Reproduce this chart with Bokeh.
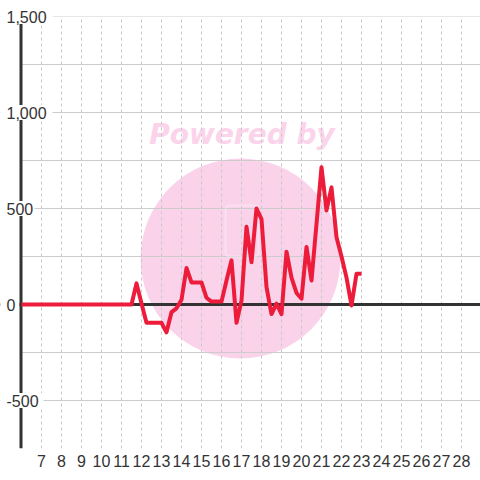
from bokeh.plotting import figure
from bokeh.models import FixedTicker, Grid, Span, BoxAnnotation, ColumnDataSource, Range1d
from bokeh.core.properties import value
from bokeh.embed import file_html
from bokeh.resources import INLINE

# ---- data ----
x_vals = [6.0, 6.25, 6.5, 6.75, 7.0, 7.25, 7.5, 7.75, 8.0, 8.25, 8.5, 8.75,
          9.0, 9.25, 9.5, 9.75, 10.0, 10.25, 10.5, 10.75, 11.0, 11.25, 11.5,
          11.75, 12.0, 12.25, 12.5, 12.75, 13.0, 13.25, 13.5, 13.75, 14.0,
          14.25, 14.5, 14.75, 15.0, 15.25, 15.5, 15.75, 16.0, 16.25, 16.5,
          16.75, 17.0, 17.25, 17.5, 17.75, 18.0, 18.25, 18.5, 18.75, 19.0,
          19.25, 19.5, 19.75, 20.0, 20.25, 20.5, 20.75, 21.0, 21.25, 21.5,
          21.75, 22.0, 22.25, 22.5, 22.75, 23.0]
y_vals = [0, 0, 0, 0, 0, 0, 0, 0, 0, 0, 0, 0,
          0, 0, 0, 0, 0, 0, 0, 0, 0, 0, 0,
          110, 5, -95, -95, -95, -95, -145, -40, -20, 25,
          190, 115, 115, 115, 35, 15, 15, 15, 125, 230,
          -95, 20, 405, 220, 500, 445, 90, -50, 5, -50,
          275, 140, 60, 30, 300, 125, 420, 715, 490, 610,
          350, 250, 140, -5, 160, 160]

x_ticks = [7, 8, 9, 10, 11, 12, 13, 14, 15, 16, 17, 18, 19, 20, 21, 22, 23, 24, 25, 26, 27, 28]
y_grid_ticks = [-750, -500, -250, 0, 250, 500, 750, 1000, 1250, 1500]
y_label_vals = [1500, 1000, 500, 0, -500]
y_label_text = ["1,500", "1,000", "500", "0", "-500"]

# ---- layout ----
W, H = 480, 480
FRAME_H = 448
PX_PER_X = 20.0
PX_PER_Y = 96.0 / 500.0
x_start = 4.95
x_end = x_start + W / PX_PER_X
y_start = -750
y_end = y_start + FRAME_H / PX_PER_Y

def dx(px):
    return x_start + px / PX_PER_X

def dy(py):
    return y_end - py / PX_PER_Y

axis_x = dx(20.5)
LABEL_LEFT = 6

p = figure(width=W, height=H, output_backend="svg", toolbar_location=None,
           x_range=Range1d(x_start, x_end), y_range=Range1d(y_start, y_end),
           y_axis_location=None, min_border_left=0, min_border_right=0,
           min_border_top=0, min_border_bottom=H - FRAME_H)
p.background_fill_color = "white"
p.border_fill_color = "white"
p.outline_line_color = None

# x axis
xa = p.xaxis[0]
xa.ticker = FixedTicker(ticks=x_ticks)
xa.axis_line_color = None
xa.major_tick_line_color = None
xa.minor_tick_line_color = None
xa.major_tick_out = 0
xa.major_tick_in = 0
xa.minor_tick_out = 0
xa.major_label_standoff = 6
xa.major_label_text_font = "Liberation Sans"
xa.major_label_text_font_size = "16px"
xa.major_label_text_color = "#333333"

p.xgrid.grid_line_color = "#c8c8c8"
p.xgrid.grid_line_dash = "3 3"
p.xgrid.grid_line_width = 1

yg = Grid(dimension=1, ticker=FixedTicker(ticks=y_grid_ticks),
          grid_line_color="#cccccc", grid_line_width=1)
p.add_layout(yg)

# watermark
p.scatter(x=[dx(240)], y=[dy(258)], size=200, marker="circle",
          fill_color="#fad3eb", line_color=None, level="image")
p.text(x=[dx(241.5)], y=[dy(134)], text=["Powered by"],
       text_font=value("DejaVu Sans"), text_font_style="bold italic",
       text_font_size=value("28px"), text_color="#fbd3eb", text_align="center",
       text_baseline="alphabetic", level="image")
p.add_layout(BoxAnnotation(left=dx(225), right=dx(258), top=dy(205), bottom=dy(256),
                           fill_alpha=0, line_color="white", line_width=2,
                           border_radius=4, level="underlay"))

# zero line
p.add_layout(Span(location=0, dimension="width", line_color="#333333",
                  line_width=3, level="underlay"))

# white cover left of axis and above top
p.add_layout(BoxAnnotation(right=dx(19), fill_color="white", fill_alpha=1,
                           line_color=None, level="underlay"))
p.add_layout(BoxAnnotation(bottom=1500, fill_color="white", fill_alpha=1,
                           line_color=None, level="underlay"))

# y axis line
p.segment(x0=[axis_x], y0=[y_start], x1=[axis_x], y1=[1500],
          line_color="#333333", line_width=3)

# data line
src = ColumnDataSource(dict(x=x_vals, y=y_vals))
p.line("x", "y", source=src, line_color="#ec1c3a", line_width=4, line_join="round")

# y labels with white backing
widths = [9.0 * len(s) + 2 for s in y_label_text]
lab = ColumnDataSource(dict(
    x=[dx(LABEL_LEFT)] * len(y_label_vals),
    xc=[dx(LABEL_LEFT + w / 2.0 - 1) for w in widths],
    y=y_label_vals,
    t=y_label_text,
    w=widths,
))
p.rect(x="xc", y="y", width="w", height=15, width_units="screen", height_units="screen",
       source=lab, fill_color="white", line_color=None)
p.text(x="x", y="y", text="t", source=lab, text_font=value("Liberation Sans"),
       text_font_size=value("16px"), text_color="#333333", text_align="left",
       text_baseline="middle")

open("out.html", "w").write(file_html(p, INLINE))
